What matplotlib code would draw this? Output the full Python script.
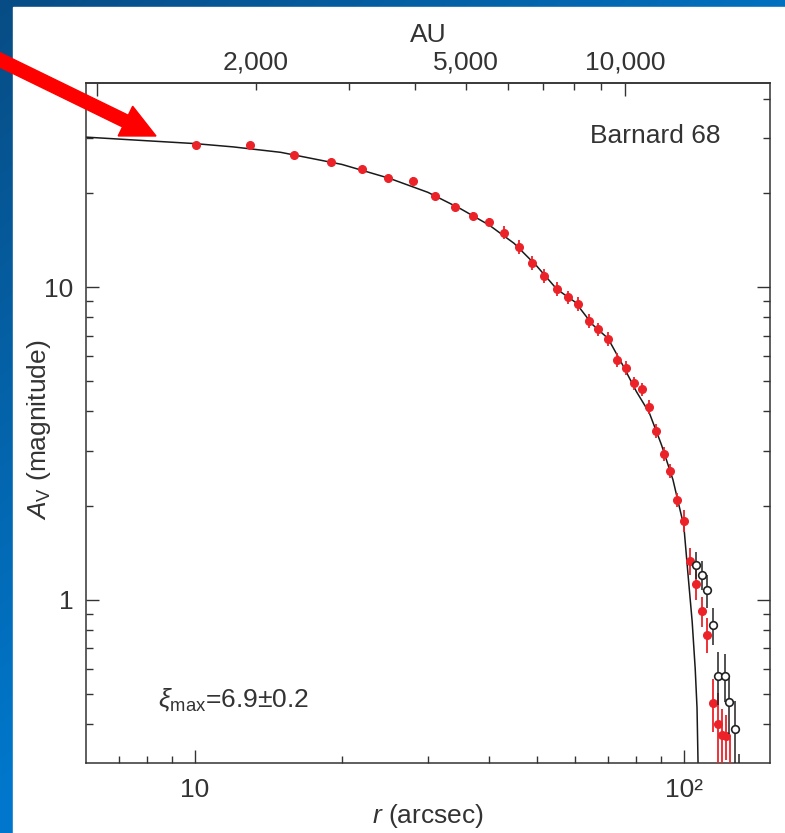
import numpy as np
import matplotlib
matplotlib.use('Agg')
import matplotlib.pyplot as plt
import matplotlib.patches as mpatches
from matplotlib.transforms import Affine2D
from matplotlib.ticker import FixedLocator, FixedFormatter, NullFormatter

plt.rcParams['font.family'] = ['Liberation Sans', 'DejaVu Sans']
plt.rcParams['mathtext.fontset'] = 'custom'
plt.rcParams['mathtext.rm'] = 'Liberation Sans'
plt.rcParams['mathtext.it'] = 'Liberation Sans:italic'
plt.rcParams['mathtext.bf'] = 'Liberation Sans:bold'

# extinction data, Barnard 68
r_red = [10.05, 13.0, 16.0, 19.0, 22.0, 24.9, 28.0, 31.0, 34.1, 37.0, 40.0, 42.8,
         46.0, 49.0, 51.8, 55.0, 58.1, 60.9, 64.0, 66.8, 70.1, 73.0, 76.0, 79.1,
         82.2, 84.8, 87.9, 90.9, 93.9, 96.8, 100.0, 102.9, 105.8, 108.7, 111.7,
         114.5, 117.5, 119.7, 121.8, 124.0]
av_red = [28.6, 28.4, 26.4, 25.2, 23.9, 22.4, 21.9, 19.5, 18.1, 16.9, 16.2, 14.95,
          13.45, 11.96, 10.84, 9.85, 9.27, 8.83, 7.79, 7.33, 6.81, 5.85, 5.52, 4.92,
          4.71, 4.13, 3.47, 2.93, 2.58, 2.09, 1.79, 1.33, 1.12, 0.918, 0.773,
          0.468, 0.401, 0.368, 0.366, 0.29]
err_red = [0.5, 0.6, 0.5, 0.5, 0.5, 0.5, 0.6, 0.5, 0.5, 0.5, 0.5, 0.7,
           0.65, 0.6, 0.55, 0.5, 0.45, 0.45, 0.4, 0.37, 0.35, 0.3, 0.28, 0.25,
           0.24, 0.21, 0.18, 0.15, 0.13, 0.11, 0.15, 0.13, 0.12, 0.1, 0.1,
           0.09, 0.1, 0.08, 0.06, 0.07]

r_open = [105.8, 108.8, 111.7, 114.8, 117.7, 121.4, 123.5, 127.0, 129.4]
av_open = [1.29, 1.20, 1.07, 0.828, 0.569, 0.569, 0.471, 0.384, 0.27]
err_open = [0.13, 0.13, 0.13, 0.11, 0.11, 0.1, 0.1, 0.09, 0.05]

# Bonnor-Ebert fit
r_model = [6.0, 8.0, 10.0, 12.0, 15.0, 20.0, 25.0, 30.0, 35.0, 40.0, 45.0, 50.0,
           55.0, 60.0, 65.0, 70.0, 75.0, 80.0, 85.0, 90.0, 95.0, 100.0, 102.0,
           104.0, 105.5, 106.4, 107.0]
av_model = [30.2, 29.4, 28.8, 28.1, 27.0, 24.7, 22.3, 20.1, 17.8, 15.8, 13.8, 11.7,
            9.85, 8.95, 7.6, 6.85, 5.63, 4.63, 3.96, 3.13, 2.42, 1.72, 1.2,
            0.85, 0.6, 0.45, 0.28]

au_major = [1000, 10000]
au_major_lab = ['', '10,000']
au_minor = [2000, 3000, 4000, 5000, 6000, 7000, 8000, 9000]
au_minor_lab = ['2,000', '', '', '5,000', '', '', '', '']

red = '#ec2229'
ink = '#333333'
fs = 19

W, H = 785, 833
fig = plt.figure(figsize=(W / 100, H / 100), dpi=100)

# slide background
bg = fig.add_axes([0, 0, 1, 1], zorder=-10)
yy, xx = np.mgrid[0:H:3, 0:W:3]
t = np.clip((xx + 1.2 * yy) / 950.0, 0, 1)
dark = np.array([0.03, 0.30, 0.52])
light = np.array([0.0, 0.47, 0.80])
bg.imshow(dark + t[..., None] * (light - dark), extent=[0, W, H, 0], aspect='auto')
bg.add_patch(mpatches.Rectangle((13, 7), W, H, color='white'))
bg.set_xlim(0, W)
bg.set_ylim(H, 0)
bg.axis('off')

ax = fig.add_axes([86 / W, (H - 763) / H, 684 / W, 680 / H])
ax.set_xscale('log')
ax.set_yscale('log')

ax.plot(r_model, av_model, color='#1a1a1a', lw=1.1, zorder=2)
ax.errorbar(r_red, av_red, yerr=err_red, fmt='o', color=red, ms=5.5,
            elinewidth=1.3, capsize=0, zorder=3)
ax.errorbar(r_open, av_open, yerr=err_open, fmt='o', mfc='white', mec='#222222',
            ecolor='#222222', ms=5.5, mew=1.2, elinewidth=1.1, capsize=0, zorder=4)

ax.set_xlim(6.0, 150)
ax.set_ylim(0.3, 45)

ax.xaxis.set_major_locator(FixedLocator([10, 100]))
ax.xaxis.set_major_formatter(FixedFormatter(['10', '10\u00b2']))
ax.xaxis.set_minor_locator(FixedLocator([7, 8, 9, 20, 30, 40, 50, 60, 70, 80, 90]))
ax.xaxis.set_minor_formatter(NullFormatter())
ax.yaxis.set_major_locator(FixedLocator([1, 10]))
ax.yaxis.set_major_formatter(FixedFormatter(['1', '10']))
ax.yaxis.set_minor_locator(FixedLocator([0.4, 0.5, 0.6, 0.7, 0.8, 0.9, 2, 3, 4, 5, 6, 7, 8, 9,
                                         20, 30, 40]))
ax.yaxis.set_minor_formatter(NullFormatter())

ax.tick_params(which='both', direction='in', top=False, right=True, colors=ink,
               width=1.0, labelsize=fs)
ax.tick_params(which='major', length=9.5)
ax.tick_params(which='minor', length=5)
ax.tick_params(axis='x', pad=11)
ax.tick_params(axis='y', pad=9)
for s in ax.spines.values():
    s.set_color(ink)
    s.set_linewidth(1.1)

secx = ax.secondary_xaxis(
    'top',
    functions=(lambda r: 10 ** (4 + 0.9263 * (np.log10(np.maximum(r, 1e-9)) - 1.8796)),
               lambda a: 10 ** (1.8796 + (np.log10(np.maximum(a, 1e-9)) - 4) / 0.9263)))
secx.xaxis.set_major_locator(FixedLocator(au_major))
secx.xaxis.set_major_formatter(FixedFormatter(au_major_lab))
secx.xaxis.set_minor_locator(FixedLocator(au_minor))
secx.xaxis.set_minor_formatter(FixedFormatter(au_minor_lab))
secx.tick_params(which='both', direction='in', colors=ink, width=1.0, labelsize=fs, pad=6)
secx.tick_params(which='major', length=9.5)
secx.tick_params(which='minor', length=5)
secx.spines['top'].set_color(ink)
secx.spines['top'].set_linewidth(1.1)
# axis title of the AU scale
ax.text(0.5, 1.061, 'AU', transform=ax.transAxes, fontsize=fs, color=ink,
        ha='center', va='baseline')

ax.set_xlabel(r'$r$ (arcsec)', fontsize=fs, color=ink)
ax.xaxis.set_label_coords(0.5, -0.058)
ax.set_ylabel(r'$A_{\rm V}$ (magnitude)', fontsize=fs, color=ink)
ax.yaxis.set_label_coords(-0.048, 0.49)

ax.text(0.7368, 0.9113, 'Barnard 68', transform=ax.transAxes, fontsize=fs,
        color=ink, ha='left', va='baseline')
ax.text(0.1053, 0.0824, r'$\xi_{\rm max}$=6.9' + '\u00b1' + '0.2',
        transform=ax.transAxes, fontsize=fs, color=ink, ha='left', va='baseline')

# red pointer arrow
px = Affine2D().scale(1 / 100.0) + fig.dpi_scale_trans
arrow = mpatches.FancyArrow(-4, H - 58, 160, -78, width=13, head_width=33,
                            head_length=34, length_includes_head=True,
                            color='#ff0000', transform=px, zorder=20)
fig.add_artist(arrow)

fig.savefig('out.png', dpi=100)
